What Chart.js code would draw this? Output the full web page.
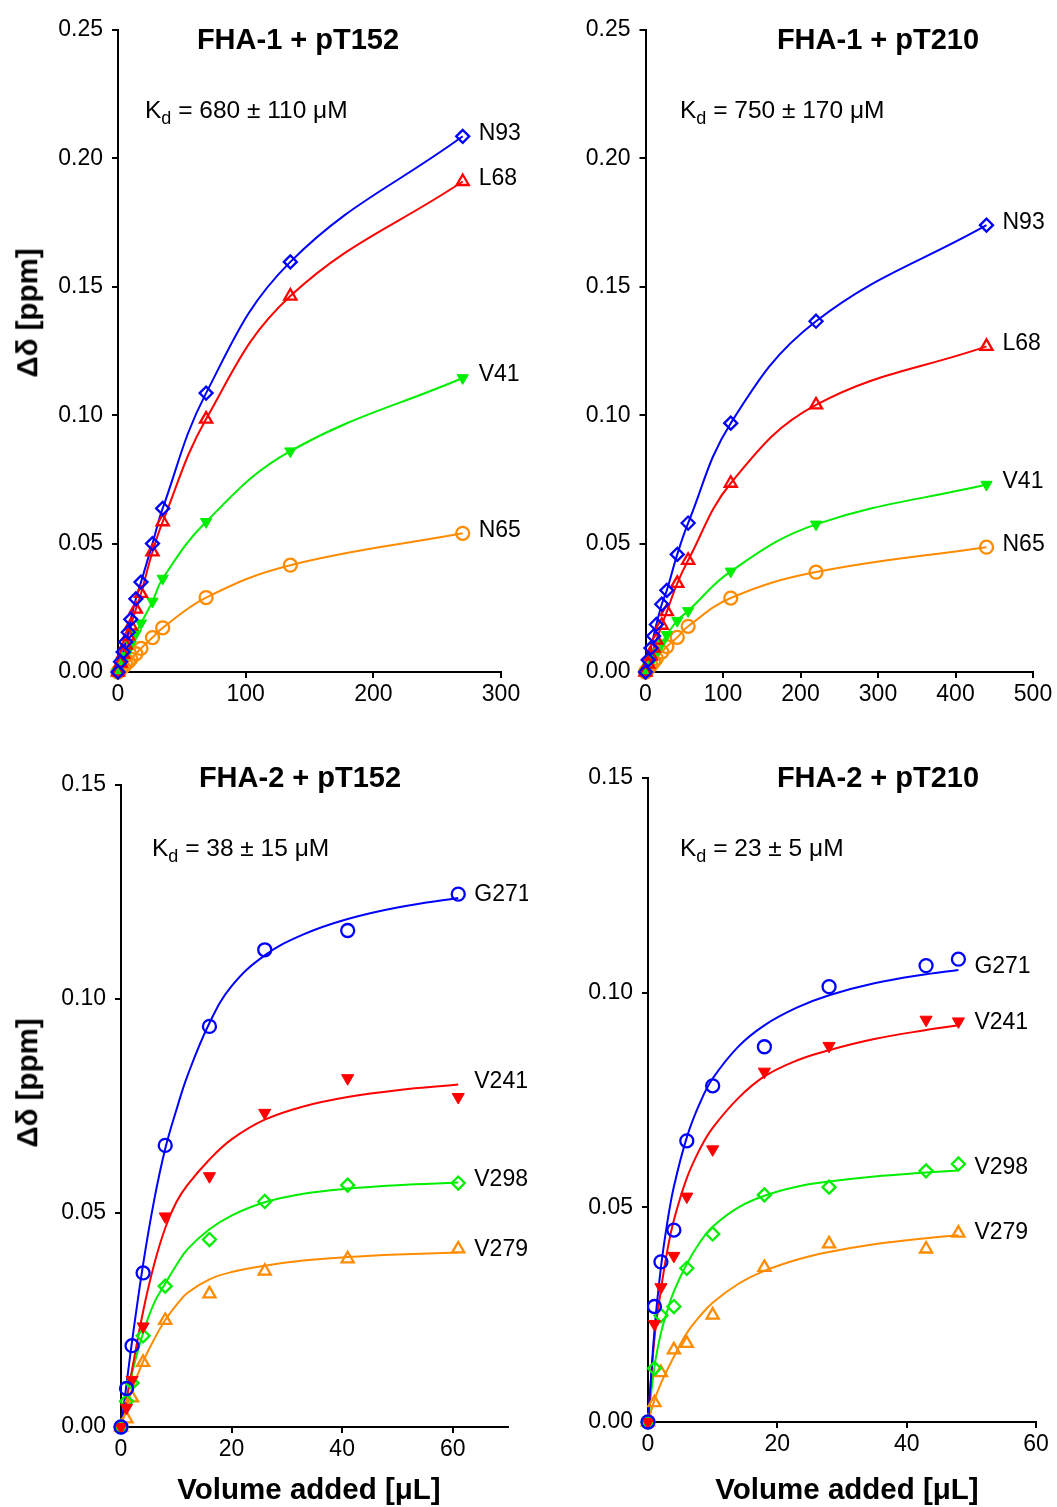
<!DOCTYPE html>
<html>
<head>
<meta charset="utf-8">
<script src="https://cdn.jsdelivr.net/npm/chart.js@4.4.1/dist/chart.umd.min.js"></script>
<style>
  body { margin: 0; background: #fff; width: 1057px; height: 1507px; position: relative; overflow: hidden;
         font-family: "Liberation Sans", Arial, Helvetica, sans-serif; color: #000; }
  canvas { position: absolute; }
  .t { position: absolute; white-space: nowrap; line-height: 1; }
  .title { font-weight: bold; font-size: 29px; transform: translate(-50%, -50%); }
  .kd { font-size: 24.5px; }
  .kd sub { font-size: 18px; vertical-align: -6px; line-height: 1; }
  .ax { font-weight: bold; font-size: 29.5px; transform: translate(-50%, -50%); }
  .ax.v { transform: translate(-50%, -50%) rotate(-90deg); }
</style>
</head>
<body>

<canvas id="c1" width="528" height="740" style="left:0;top:0"></canvas>
<canvas id="c2" width="529" height="740" style="left:528px;top:0"></canvas>
<canvas id="c3" width="528" height="767" style="left:0;top:740px"></canvas>
<canvas id="c4" width="529" height="767" style="left:528px;top:740px"></canvas>

<div class="t title" style="left:298px;top:39px">FHA-1 + pT152</div>
<div class="t title" style="left:878px;top:39px">FHA-1 + pT210</div>
<div class="t title" style="left:300px;top:777px">FHA-2 + pT152</div>
<div class="t title" style="left:878px;top:777px">FHA-2 + pT210</div>

<div class="t kd" style="left:145px;top:98px">K<sub>d</sub> = 680 ± 110 μM</div>
<div class="t kd" style="left:680px;top:98px">K<sub>d</sub> = 750 ± 170 μM</div>
<div class="t kd" style="left:152px;top:836px">K<sub>d</sub> = 38 ± 15 μM</div>
<div class="t kd" style="left:680px;top:836px">K<sub>d</sub> = 23 ± 5 μM</div>

<div class="t ax v" style="left:27px;top:313px">Δδ [ppm]</div>
<div class="t ax v" style="left:27px;top:1083px">Δδ [ppm]</div>
<div class="t ax" style="left:309px;top:1489px">Volume added [μL]</div>
<div class="t ax" style="left:847px;top:1489px">Volume added [μL]</div>

<script>
// FHA-1 + pT152 (volume in uL, shift in ppm)
let vol1 = [0, 2, 4, 6, 8, 10, 14, 18, 27, 35, 69, 135, 270]
let n93a = [0, 0.0040, 0.0078, 0.0117, 0.0155, 0.0205, 0.0285, 0.0350, 0.0500, 0.0637, 0.1086, 0.1597, 0.2086]
let l68a = [0, 0.0035, 0.0070, 0.0105, 0.0140, 0.0180, 0.0245, 0.0306, 0.0468, 0.0585, 0.0985, 0.1464, 0.1910]
let v41a = [0, 0.0021, 0.0042, 0.0063, 0.0084, 0.0108, 0.0150, 0.0190, 0.0275, 0.0364, 0.0585, 0.0860, 0.1145]
let n65a = [0, 0.0010, 0.0020, 0.0030, 0.0040, 0.0050, 0.0071, 0.0092, 0.0134, 0.0172, 0.0290, 0.0416, 0.0540]

// FHA-1 + pT210
let vol2 = [0, 3.5, 7, 10.5, 14, 21, 27.5, 41, 55, 110, 220, 440]
let n93b = [0, 0.0047, 0.0093, 0.0140, 0.0185, 0.0264, 0.0318, 0.0458, 0.0580, 0.0969, 0.1366, 0.1740]
let l68b = [0, 0.0031, 0.0062, 0.0093, 0.0124, 0.0182, 0.0235, 0.0345, 0.0435, 0.0735, 0.1040, 0.1268]
let v41b = [0, 0.0019, 0.0038, 0.0057, 0.0076, 0.0112, 0.0145, 0.0200, 0.0238, 0.0392, 0.0575, 0.0730]
let n65b = [0, 0.0013, 0.0027, 0.0040, 0.0053, 0.0078, 0.0099, 0.0135, 0.0178, 0.0288, 0.0389, 0.0486]

// FHA-2 + pT152, measured points
let vol3 = [0, 1, 2, 4, 8, 16, 26, 41, 61]
let g271c = [0, 0.0090, 0.0190, 0.0360, 0.0658, 0.0936, 0.1115, 0.1160, 0.1245]
let v241c = [0, 0.0045, 0.0110, 0.0235, 0.0492, 0.0586, 0.0734, 0.0815, 0.0771]
let v298c = [0, 0.0060, 0.0103, 0.0213, 0.0329, 0.0438, 0.0527, 0.0565, 0.0570]
let v279c = [0, 0.0019, 0.0068, 0.0151, 0.0249, 0.0311, 0.0364, 0.0393, 0.0416]
// fitted curves
let fitVol3 = [0, 1, 2, 4, 6, 8, 10, 12, 16, 20, 26, 33, 41, 50, 61]
let g271cFit = [0, 0.0100, 0.0200, 0.0380, 0.0530, 0.0650, 0.0740, 0.0820, 0.0944, 0.1030, 0.1102, 0.1151, 0.1187, 0.1214, 0.1236]
let v241cFit = [0, 0.0065, 0.0134, 0.0270, 0.0380, 0.0465, 0.0525, 0.0565, 0.0625, 0.0672, 0.0718, 0.0749, 0.0771, 0.0787, 0.0800]
let v298cFit = [0, 0.0065, 0.0127, 0.0220, 0.0290, 0.0335, 0.0378, 0.0415, 0.0462, 0.0494, 0.0525, 0.0545, 0.0557, 0.0565, 0.0571]
let v279cFit = [0, 0.0045, 0.0087, 0.0153, 0.0205, 0.0250, 0.0285, 0.0313, 0.0345, 0.0362, 0.0377, 0.0389, 0.0397, 0.0403, 0.0408]

// FHA-2 + pT210, measured points
let vol4 = [0, 1, 2, 4, 6, 10, 18, 28, 43, 48]
let g271d = [0, 0.0269, 0.0373, 0.0447, 0.0655, 0.0783, 0.0874, 0.1014, 0.1063, 0.1078]
let v241d = [0, 0.0228, 0.0314, 0.0387, 0.0525, 0.0635, 0.0816, 0.0876, 0.0937, 0.0933]
let v298d = [0, 0.0125, 0.0248, 0.0269, 0.0358, 0.0438, 0.0529, 0.0547, 0.0585, 0.0601]
let v279d = [0, 0.0045, 0.0115, 0.0168, 0.0183, 0.0249, 0.0360, 0.0415, 0.0403, 0.0440]
// fitted curves
let fitVol4 = [0, 1, 2, 3, 4, 6, 8, 10, 14, 18, 23, 28, 35, 43, 48]
let g271dFit = [0, 0.0213, 0.0360, 0.0466, 0.0548, 0.0663, 0.0742, 0.0800, 0.0875, 0.0924, 0.0965, 0.0994, 0.1022, 0.1043, 0.1053]
let v241dFit = [0, 0.0195, 0.0308, 0.0400, 0.0470, 0.0568, 0.0635, 0.0685, 0.0755, 0.0805, 0.0842, 0.0866, 0.0892, 0.0913, 0.0924]
let v298dFit = [0, 0.0129, 0.0207, 0.0260, 0.0304, 0.0368, 0.0418, 0.0455, 0.0500, 0.0527, 0.0548, 0.0560, 0.0572, 0.0581, 0.0586]
let v279dFit = [0, 0.0051, 0.0090, 0.0122, 0.0152, 0.0207, 0.0246, 0.0278, 0.0322, 0.0352, 0.0378, 0.0396, 0.0414, 0.0428, 0.0435]

let blue = '#0000ff', red = '#ff0000', green = '#00ee00', orange = '#ff8c00'

Chart.defaults.font.family = '"Liberation Sans", Arial, Helvetica, sans-serif'
Chart.defaults.font.size = 23
Chart.defaults.color = '#000'
Chart.defaults.animation = false

function pts(xs, ys) {
  return xs.map((x, i) => ({ x: x, y: ys[i] }))
}

// symbols: open diamond, open triangle, filled down triangle, open circle
let shapes = {
  diamond: { style: 'rectRot', rot: 0, fill: false },
  tri:     { style: 'triangle', rot: 0, fill: false },
  down:    { style: 'triangle', rot: 180, fill: true },
  circle:  { style: 'circle', rot: 0, fill: false }
}

function marks(xs, ys, color, shape, r) {
  let s = shapes[shape]
  return {
    data: pts(xs, ys),
    order: 0,
    showLine: false,
    clip: false,
    pointStyle: s.style,
    pointRotation: s.rot,
    pointRadius: r,
    pointHoverRadius: r,
    pointBorderWidth: s.fill ? 1 : 2.3,
    pointBorderColor: color,
    pointBackgroundColor: s.fill ? color : 'rgba(0,0,0,0)',
    borderColor: color
  }
}

function curve(xs, ys, color, tag) {
  return {
    data: pts(xs, ys),
    order: 1,
    showLine: true,
    clip: false,
    pointRadius: 0,
    pointHoverRadius: 0,
    borderWidth: 2,
    borderColor: color,
    tension: 0.4,
    tag: tag
  }
}

// residue name written just right of where each curve ends
let endLabels = {
  id: 'endLabels',
  afterDatasetsDraw(chart) {
    let ctx = chart.ctx
    ctx.save()
    ctx.font = '23px "Liberation Sans", Arial, sans-serif'
    ctx.fillStyle = '#000'
    ctx.textBaseline = 'middle'
    chart.data.datasets.forEach((ds, i) => {
      if (!ds.tag) return
      let el = chart.getDatasetMeta(i).data
      let p = el[el.length - 1]
      ctx.fillText(ds.tag, p.x + 16, p.y - 3)
    })
    ctx.restore()
  }
}

function panel(id, o) {
  return new Chart(document.getElementById(id), {
    type: 'scatter',
    data: { datasets: o.sets },
    plugins: [endLabels],
    options: {
      responsive: false,
      maintainAspectRatio: false,
      layout: { padding: { top: o.top, right: o.right, left: 0, bottom: 0 } },
      plugins: { legend: { display: false }, tooltip: { enabled: false } },
      scales: {
        x: {
          type: 'linear', min: 0, max: o.xMax,
          afterFit: s => { s.height = o.xH },
          afterBuildTicks: s => { s.ticks = s.ticks.filter(t => t.value <= o.xLast) },
          ticks: { stepSize: o.xStep, padding: 3, maxRotation: 0, autoSkip: false },
          grid: { drawOnChartArea: false, tickLength: 6, lineWidth: 2, color: '#000' },
          border: { color: '#000', width: 2 }
        },
        y: {
          min: 0, max: o.yMax,
          afterFit: s => { s.width = o.yW },
          ticks: { stepSize: 0.05, padding: 9, callback: v => v.toFixed(2) },
          grid: { drawOnChartArea: false, tickLength: 6, lineWidth: 2, color: '#000' },
          border: { color: '#000', width: 2 }
        }
      }
    }
  })
}

panel('c1', {
  xMax: 300, xLast: 300, xStep: 100, yMax: 0.25, top: 30, right: 27, yW: 118, xH: 68,
  sets: [
    marks(vol1, n93a, blue, 'diamond', 6.5),
    marks(vol1, l68a, red, 'tri', 7),
    marks(vol1, v41a, green, 'down', 6.5),
    marks(vol1, n65a, orange, 'circle', 6.5),
    curve(vol1, n93a, blue, 'N93'),
    curve(vol1, l68a, red, 'L68'),
    curve(vol1, v41a, green, 'V41'),
    curve(vol1, n65a, orange, 'N65')
  ]
})

panel('c2', {
  xMax: 500, xLast: 500, xStep: 100, yMax: 0.25, top: 30, right: 24, yW: 117.5, xH: 68,
  sets: [
    marks(vol2, n93b, blue, 'diamond', 6.5),
    marks(vol2, l68b, red, 'tri', 7),
    marks(vol2, v41b, green, 'down', 6.5),
    marks(vol2, n65b, orange, 'circle', 6.5),
    curve(vol2, n93b, blue, 'N93'),
    curve(vol2, l68b, red, 'L68'),
    curve(vol2, v41b, green, 'V41'),
    curve(vol2, n65b, orange, 'N65')
  ]
})

panel('c3', {
  xMax: 70, xLast: 60, xStep: 20, yMax: 0.15, top: 45, right: 20, yW: 121, xH: 80,
  sets: [
    marks(vol3, g271c, blue, 'circle', 6.5),
    marks(vol3, v241c, red, 'down', 7),
    marks(vol3, v298c, green, 'diamond', 6.5),
    marks(vol3, v279c, orange, 'tri', 7),
    curve(fitVol3, g271cFit, blue, 'G271'),
    curve(fitVol3, v241cFit, red, 'V241'),
    curve(fitVol3, v298cFit, green, 'V298'),
    curve(fitVol3, v279cFit, orange, 'V279')
  ]
})

panel('c4', {
  xMax: 60, xLast: 60, xStep: 20, yMax: 0.15, top: 38, right: 21, yW: 120, xH: 85,
  sets: [
    marks(vol4, g271d, blue, 'circle', 6.5),
    marks(vol4, v241d, red, 'down', 7),
    marks(vol4, v298d, green, 'diamond', 6.5),
    marks(vol4, v279d, orange, 'tri', 7),
    curve(fitVol4, g271dFit, blue, 'G271'),
    curve(fitVol4, v241dFit, red, 'V241'),
    curve(fitVol4, v298dFit, green, 'V298'),
    curve(fitVol4, v279dFit, orange, 'V279')
  ]
})
</script>
</body>
</html>
